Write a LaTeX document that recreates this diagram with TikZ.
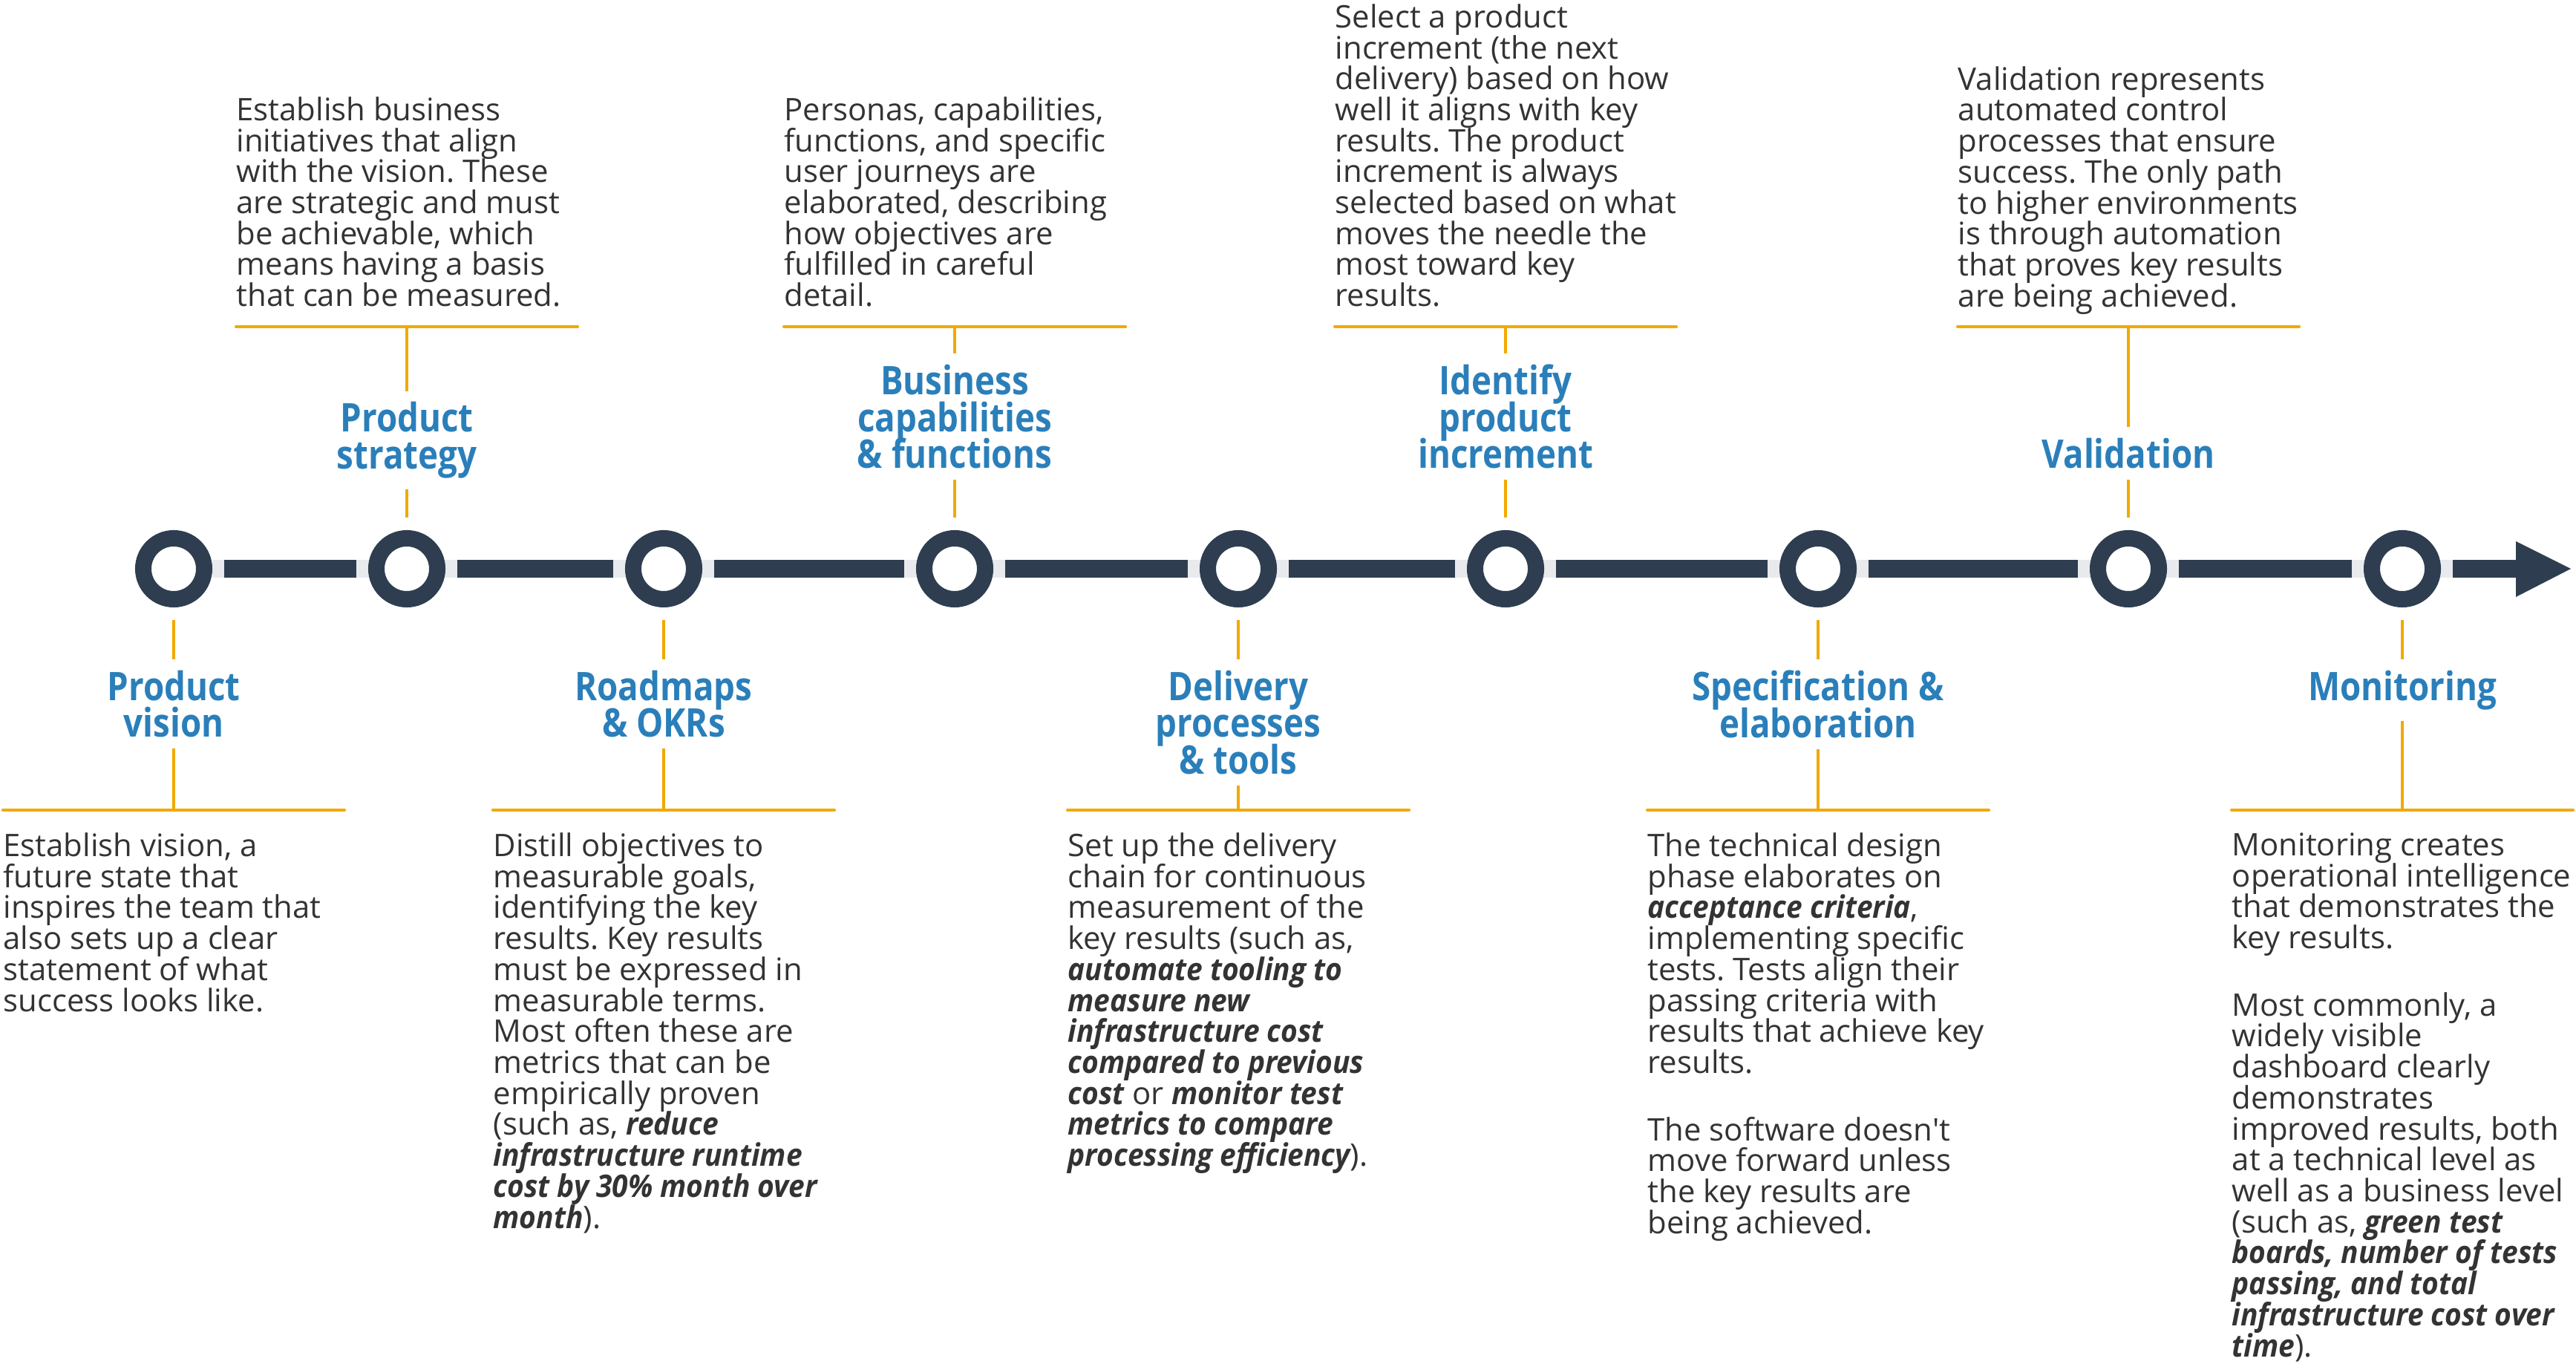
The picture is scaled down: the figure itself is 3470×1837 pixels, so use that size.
\documentclass[tikz,border=0pt]{standalone}
\usepackage{fontspec}
\setmainfont{Open Sans}[Ligatures=TeXOff]
\newfontfamily\titlefont{Open Sans}[FakeStretch=0.86]
\newfontfamily\krfont{Open Sans}[Ligatures=TeXOff, FakeStretch=0.93]
\usetikzlibrary{positioning,backgrounds}
\frenchspacing

\definecolor{navy}{HTML}{2E3E50}
\definecolor{halo}{HTML}{E8EAED}
\definecolor{amber}{HTML}{F2A900}
\definecolor{stepblue}{HTML}{2A7FBA}
\definecolor{ink}{HTML}{333333}

\newcommand{\kr}[1]{{\krfont\bfseries\itshape #1}}
\newcommand{\tightlines}{\lineskiplimit=-\maxdimen}

\begin{document}
\begin{tikzpicture}
        [
            x = 0.01cm, y = -0.01cm,
            ring/.style  = {shape=circle, draw=navy, fill=white, line width=6.26pt,
                            minimum size=0.82cm, inner sep=0pt},
            bar/.style   = {draw=navy, line width=7.1pt},
            tick/.style  = {draw=amber, line width=1pt},
            rule/.style  = {draw=amber, line width=1.1pt, line cap=round},
            title/.style = {align=center, fill=white, inner sep=0.15cm, text=stepblue,
                            font={\titlefont\bfseries\fontsize{15.1}{14.1}\selectfont\tightlines}},
            blurb/.style = {align=left, inner sep=0pt, text=ink,
                            font={\fontsize{11.9}{11.86}\selectfont\tightlines}},
        ]
        \useasboundingbox (0,0) rectangle (3470,1837);

        % timeline
        \foreach \i/\x in {1/234, 2/548, 3/894, 4/1286, 5/1668, 6/2028, 7/2449, 8/2867, 9/3236}
            \node [ring] (r\i) at (\x,766) {};
        \coordinate (head) at (3389,766);
        \coordinate (tip)  at (3463,766);
        \begin{pgfonlayer}{background}
            \draw [draw=halo, line width=7.1pt] (r1) -- (head);
            \foreach \a/\b in {1/2, 2/3, 3/4, 4/5, 5/6, 6/7, 7/8, 8/9}
                \draw [bar, shorten <=0.16cm, shorten >=0.16cm] (r\a) -- (r\b);
            \draw [bar, shorten <=0.16cm] (r9) -- (head);
        \end{pgfonlayer}
        \fill [navy] (3389,729) -- (tip) -- (3389,804) -- cycle;

        % ticks and rules
        \foreach \i in {1,3,5,7,9} {
            \coordinate (t\i) at (r\i |- 0,1091);
            \draw [tick, shorten <=0.17cm] (r\i) -- (t\i);
            \draw [rule] ([xshift=-2.3cm]t\i) -- ([xshift=2.3cm]t\i);
        }
        \foreach \i in {2,4,6,8} {
            \coordinate (t\i) at (r\i |- 0,440);
            \draw [tick, shorten <=0.17cm] (r\i) -- (t\i);
            \draw [rule] ([xshift=-2.3cm]t\i) -- ([xshift=2.3cm]t\i);
        }

        % step titles
        \node [title, below=0.69cm of r1] (h1) {Product\\vision};
        \node [title, above=0.54cm of r2] (h2) {Product\\strategy};
        \node [title, below=0.69cm of r3] (h3) {Roadmaps\\\& OKRs};
        \node [title, above=0.67cm of r4] (h4) {Business\\capabilities\\\& functions};
        \node [title, below=0.69cm of r5] (h5) {Delivery\\processes\\\& tools};
        \node [title, above=0.67cm of r6] (h6) {Identify\\product\\increment};
        \node [title, below=0.69cm of r7] (h7) {Specification \&\\elaboration};
        \node [title, above=0.67cm of r8] (h8) {Validation};
        \node [title, below=0.69cm of r9] (h9) {Monitoring};

        % descriptions
        \node [blurb, anchor=north west] (d1) at ([shift={(-230,30)}]t1)
            {Establish vision, a\\future state that\\inspires the team that\\also sets up a clear\\statement of what\\success looks like.};
        \node [blurb, anchor=south west] (d2) at ([shift={(-230,-26)}]t2)
            {Establish business\\initiatives that align\\with the vision. These\\are strategic and must\\be achievable, which\\means having a basis\\that can be measured.};
        \node [blurb, anchor=north west] (d3) at ([shift={(-230,30)}]t3)
            {Distill objectives to\\measurable goals,\\identifying the key\\results. Key results\\must be expressed in\\measurable terms.\\Most often these are\\metrics that can be\\empirically proven\\(such as, \kr{reduce}\\\kr{infrastructure runtime}\\\kr{cost by 30\% month over}\\\kr{month}).};
        \node [blurb, anchor=south west] (d4) at ([shift={(-230,-26)}]t4)
            {Personas, capabilities,\\functions, and specific\\user journeys are\\elaborated, describing\\how objectives are\\fulfilled in careful\\detail.};
        \node [blurb, anchor=north west] (d5) at ([shift={(-230,30)}]t5)
            {Set up the delivery\\chain for continuous\\measurement of the\\key results (such as,\\\kr{automate tooling to}\\\kr{measure new}\\\kr{infrastructure cost}\\\kr{compared to previous}\\\kr{cost} or \kr{monitor test}\\\kr{metrics to compare}\\\kr{processing efficiency}).};
        \node [blurb, anchor=south west] (d6) at ([shift={(-230,-26)}]t6)
            {Select a product\\increment (the next\\delivery) based on how\\well it aligns with key\\results. The product\\increment is always\\selected based on what\\moves the needle the\\most toward key\\results.};
        \node [blurb, anchor=north west] (d7) at ([shift={(-230,30)}]t7)
            {The technical design\\phase elaborates on\\\kr{acceptance criteria},\\implementing specific\\tests. Tests align their\\passing criteria with\\results that achieve key\\results.\\[0.49cm]The software doesn't\\move forward unless\\the key results are\\being achieved.};
        \node [blurb, anchor=south west] (d8) at ([shift={(-230,-16)}]t8)
            {Validation represents\\automated control\\processes that ensure\\success. The only path\\to higher environments\\is through automation\\that proves key results\\are being achieved.};
        \node [blurb, anchor=north west] (d9) at ([shift={(-230,30)}]t9)
            {Monitoring creates\\operational intelligence\\that demonstrates the\\key results.\\[0.49cm]Most commonly, a\\widely visible\\dashboard clearly\\demonstrates\\improved results, both\\at a technical level as\\well as a business level\\(such as, \kr{green test}\\\kr{boards, number of tests}\\\kr{passing, and total}\\\kr{infrastructure cost over}\\\kr{time}).};
\end{tikzpicture}
\end{document}
